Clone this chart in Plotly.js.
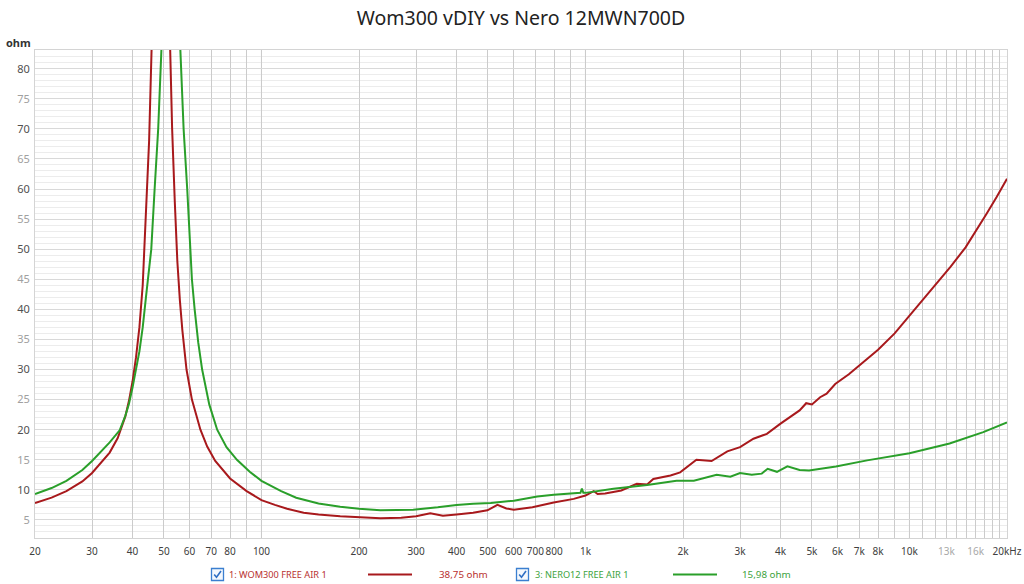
<!DOCTYPE html>
<html>
<head>
<meta charset="utf-8">
<script src="https://cdn.plot.ly/plotly-3.0.1.min.js"></script>
<style>html,body{margin:0;padding:0;background:#fff;}#chart{width:1024px;height:584px;}</style>
</head>
<body>
<div id="chart"></div>
<script>
// ---- data (Hz, ohm) ----
const womFreq = [20,22.5,25,28,30,32,34,36,38,39,40,41,42,43,44,45,46,47,48,48.8,49.7,50.7,52,53,54,55,56,57,58.7,61,64.8,68,72,80,90,100,110,120,135,150,175,200,233,270,300,332,363,400,450,498,535,570,601,686,798,920,1000,1060,1090,1150,1290,1440,1550,1620,1830,1960,2200,2450,2740,3000,3300,3630,4000,4580,4800,5000,5300,5550,5900,6500,7000,8000,9000,10000,11000,12100,13400,14900,16000,17300,18600,20000];
const womOhm = [7.8,8.7,9.8,11.4,12.8,14.5,16.2,18.6,22.2,24.8,28,32,37,44,55,68,87,108,130,140,132,112,85,70,58,48,41.5,36.5,30,25,20,17.2,14.8,11.9,9.8,8.3,7.5,6.85,6.2,5.9,5.6,5.45,5.3,5.35,5.6,6.1,5.7,5.9,6.2,6.6,7.5,6.9,6.7,7.1,7.9,8.5,9.05,9.8,9.3,9.4,9.9,11.0,10.9,11.8,12.4,12.9,15.0,14.8,16.4,17.1,18.5,19.3,21.0,23.2,24.4,24.2,25.4,26.0,27.6,29.2,30.7,33.3,36.0,38.9,41.5,44.3,47.1,50.3,52.9,55.9,58.7,61.7];

const neroFreq = [20,22.5,25,28,30,32,34,36.5,38,39,40,42,43,44,45,45.7,46.8,48,49.1,50.5,51.5,52.5,53.5,54.5,56.2,57.5,59,60.2,61,62.2,63.8,65.6,69,73,78,84,92,100,115,128,140,150,175,200,233,294,350,400,450,510,601,710,798,919,965,975,985,1000,1220,1550,1910,2160,2540,2800,3000,3260,3500,3650,3900,4200,4580,4900,5930,7400,10000,13300,16900,20000];
const neroOhm = [9.3,10.3,11.5,13.3,14.8,16.4,17.9,19.9,22.3,24.3,27,33,37,42,47,50,60,70,83,105,120,128,118,103,83,70,60,50,45,40,34.5,30,24.2,20,17.1,15,13,11.5,9.8,8.7,8.1,7.75,7.2,6.85,6.6,6.7,7.1,7.5,7.7,7.8,8.2,8.9,9.2,9.4,9.5,10.2,9.5,9.5,10.2,10.8,11.5,11.5,12.5,12.2,12.8,12.5,12.7,13.5,13.0,13.9,13.3,13.2,13.9,14.9,16.1,17.7,19.6,21.2];

const seriesNames = ["1: WOM300 FREE AIR 1", "3: NERO12 FREE AIR 1"];
const cursorValues = ["38,75 ohm", "15,98 ohm"];

const xTickVals = [20,30,40,50,60,70,80,90,100,200,300,400,500,600,700,800,900,1000,2000,3000,4000,5000,6000,7000,8000,9000,10000,11000,12000,13000,14000,15000,16000,17000,18000,19000,20000];
const xTickText = ["20","30","40","50","60","70","80","","100","200","300","400","500","600","700","800","","1k","2k","3k","4k","5k","6k","7k","8k","","10k","","","<span style='color:#a8a8a8'>13k</span>","","","<span style='color:#a8a8a8'>16k</span>","","","","20kHz"];
const decadeVals = [100,1000,10000];
const yTickVals = [5,10,15,20,25,30,35,40,45,50,55,60,65,70,75,80];

// ---- layout helpers ----
const L = 35, R = 1007, T = 50, B = 538;
const PX = p => (p - L) / (R - L);
const PY = p => (B - p) / (B - T);

const RED = '#a8191c', GREEN = '#2a9f2a';
const RED_TXT = '#b8312f', GREEN_TXT = '#3da33d';
const FONT = 'Noto Sans, Open Sans, sans-serif';

const yTickText = yTickVals.map(v => v % 10 === 0 ? "<span style='color:#505050'>" + v + "</span>" : "<span style='color:#a0a0a0'>" + v + "</span>");

const traces = [
  {x: womFreq, y: womOhm, type: 'scatter', mode: 'lines', line: {color: RED, width: 2}, hoverinfo: 'skip', name: seriesNames[0]},
  {x: neroFreq, y: neroOhm, type: 'scatter', mode: 'lines', line: {color: GREEN, width: 2}, hoverinfo: 'skip', name: seriesNames[1]}
];

const xr = [Math.log10(20), Math.log10(20000)];

function checkbox(x0) {
  const x1 = x0 + 12, y0 = 568.5, y1 = 580.5;
  return [
    {type: 'rect', xref: 'paper', yref: 'paper', x0: PX(x0), x1: PX(x1), y0: PY(y1), y1: PY(y0), line: {color: '#3b7fd0', width: 1.3}, fillcolor: '#f4f8fd'},
    {type: 'path', xref: 'paper', yref: 'paper', path: 'M ' + PX(x0 + 2.7) + ',' + PY(574.5) + ' L ' + PX(x0 + 5) + ',' + PY(577.3) + ' L ' + PX(x0 + 9.5) + ',' + PY(571), line: {color: '#2f6fc4', width: 1.6}}
  ];
}

const decadeShapes = decadeVals.map(v => ({type: 'line', layer: 'below', xref: 'x', yref: 'paper', x0: v, x1: v, y0: 0, y1: 1, line: {color: '#8c8c8c', width: 1}}));

const shapes = [].concat(
  decadeShapes,
  checkbox(211.5),
  [{type: 'line', xref: 'paper', yref: 'paper', x0: PX(368), x1: PX(412), y0: PY(574.5), y1: PY(574.5), line: {color: RED, width: 2}}],
  checkbox(516.5),
  [{type: 'line', xref: 'paper', yref: 'paper', x0: PX(673), x1: PX(717), y0: PY(574.5), y1: PY(574.5), line: {color: GREEN, width: 2}}]
);

const annotations = [
  {text: '<b>ohm</b>', xref: 'paper', yref: 'paper', x: PX(33), y: PY(43), xanchor: 'right', yanchor: 'middle', showarrow: false, font: {family: FONT, size: 11, color: '#333'}},
  {text: seriesNames[0], xref: 'paper', yref: 'paper', x: PX(227), y: PY(574.5), xanchor: 'left', yanchor: 'middle', showarrow: false, font: {family: FONT, size: 9.2, color: RED_TXT}},
  {text: cursorValues[0], xref: 'paper', yref: 'paper', x: PX(437), y: PY(574.5), xanchor: 'left', yanchor: 'middle', showarrow: false, font: {family: FONT, size: 9.8, color: RED_TXT}},
  {text: seriesNames[1], xref: 'paper', yref: 'paper', x: PX(533), y: PY(574.5), xanchor: 'left', yanchor: 'middle', showarrow: false, font: {family: FONT, size: 9.2, color: GREEN_TXT}},
  {text: cursorValues[1], xref: 'paper', yref: 'paper', x: PX(740), y: PY(574.5), xanchor: 'left', yanchor: 'middle', showarrow: false, font: {family: FONT, size: 9.8, color: GREEN_TXT}}
];

const layout = {
  width: 1024, height: 584,
  margin: {l: L, r: 1024 - R, t: T, b: 584 - B, pad: 0},
  paper_bgcolor: '#ffffff', plot_bgcolor: '#ffffff',
  showlegend: false,
  font: {family: FONT, size: 11, color: '#444'},
  title: {text: 'Wom300 vDIY vs Nero 12MWN700D', x: 0.5, xref: 'paper', xanchor: 'center', y: 1 - 18 / 584, yref: 'container', yanchor: 'middle', font: {family: FONT, size: 19.5, color: '#222'}},
  xaxis: {
    type: 'log', range: xr, tickmode: 'array', tickvals: xTickVals, ticktext: xTickText, tickangle: 0,
    showgrid: true, gridcolor: '#cbcbcb', gridwidth: 1, zeroline: false,
    showline: true, linecolor: '#d4d4d4', linewidth: 1, mirror: true,
    ticks: '', ticklabelstandoff: 4, tickfont: {family: FONT, size: 10, color: '#404040'}, fixedrange: true
  },
  yaxis: {
    range: [2, 83.1], tickmode: 'array', tickvals: yTickVals, ticktext: yTickText,
    showgrid: true, gridcolor: '#d9d9d9', gridwidth: 1, zeroline: false,
    minor: {dtick: 1, showgrid: true, gridcolor: '#ececec', gridwidth: 1, ticks: ''},
    showline: true, linecolor: '#d4d4d4', linewidth: 1, mirror: true,
    ticks: '', ticklabelstandoff: 2, tickfont: {family: FONT, size: 11}, fixedrange: true
  },
  shapes: shapes,
  annotations: annotations
};

Plotly.newPlot('chart', traces, layout, {staticPlot: true, displayModeBar: false});
</script>
</body>
</html>
